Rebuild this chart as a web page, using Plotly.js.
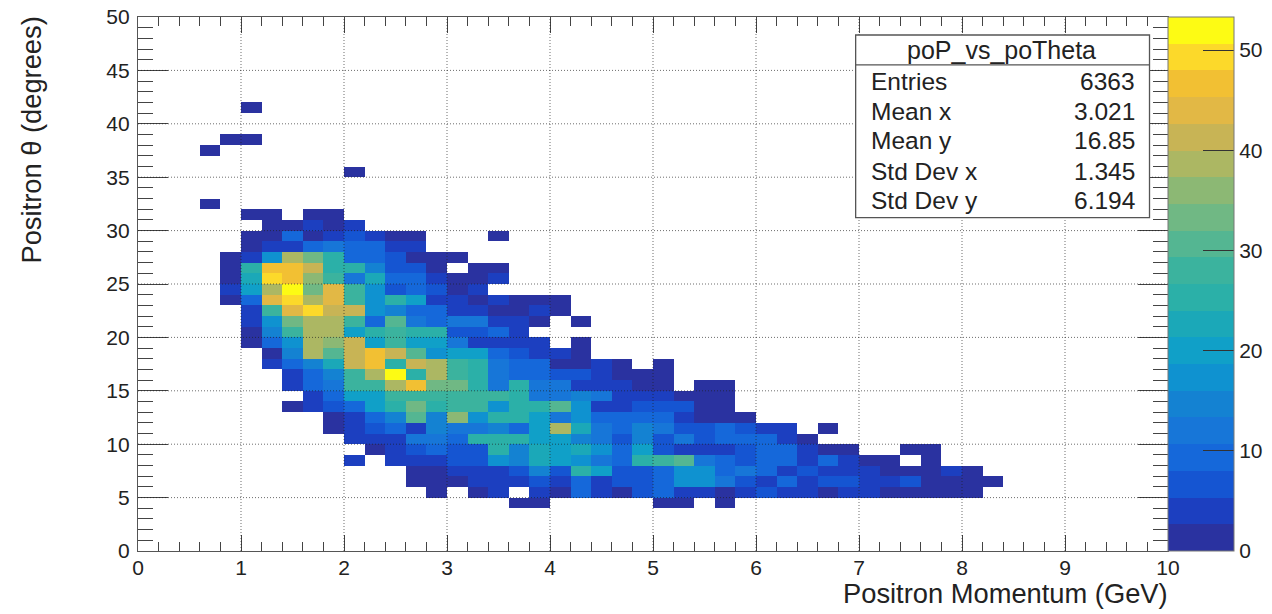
<!DOCTYPE html>
<html>
<head>
<meta charset="utf-8">
<script src="https://cdn.plot.ly/plotly-3.0.1.min.js"></script>
<style>html,body{margin:0;padding:0;background:#fff}</style>
</head>
<body>
<div id="chart" style="width:1272px;height:614px"></div>
<script>
// Histogram bin layout: 50 bins 0-10 GeV, 50 bins 0-50 degrees
const binCountX = 50, binWidthX = 0.2;
const binCountY = 50, binWidthY = 1;

// Each row: theta bin index, first momentum bin index, counts from that bin on (0 = empty)
const row41 = [41, 5, [1]];
const row38 = [38, 4, [1,1]];
const row37 = [37, 3, [1]];
const row35 = [35, 10, [1]];
const row32 = [32, 3, [1]];
const row31 = [31, 5, [2,2,0,2,2]];
const row30 = [30, 6, [2,2,4,2,4]];
const row29 = [29, 5, [2,2,8,2,4,6,5,2,2,0,0,0,1]];
const row28 = [28, 5, [2,5,5,10,11,8,9,5,4]];
const row27 = [27, 4, [2,5,17,38,33,25,9,9,7,2,2,2]];
const row26 = [26, 4, [2,25,46,46,42,25,24,14,7,7,2,0,2,2]];
const row25 = [25, 4, [2,22,50,46,37,28,12,22,9,8,4,2,2,4]];
const row24 = [24, 4, [4,21,38,53,34,44,28,17,7,8,6,2,5]];
const row23 = [23, 4, [2,10,43,49,38,44,27,17,25,19,5,5,2,4,2,2,2]];
const row22 = [22, 5, [5,28,44,50,42,41,16,15,8,10,5,5,2,2,4,2]];
const row21 = [21, 5, [4,16,33,38,38,28,9,31,11,9,11,11,3,3,2,0,2]];
const row20 = [20, 5, [2,15,29,38,38,20,24,27,24,24,7,7,8,3]];
const row19 = [19, 5, [2,9,18,38,36,42,21,27,21,21,13,5,4,4,4,0,2]];
const row18 = [18, 6, [2,15,38,30,42,46,41,31,18,20,19,10,7,5,5,2]];
const row17 = [17, 6, [4,8,14,22,42,46,25,42,38,28,26,11,9,8,2,2,4,2,0,2]];
const row16 = [16, 7, [5,8,15,27,38,53,26,38,28,25,12,9,9,7,7,3,2,2,2]];
const row15 = [15, 7, [5,8,12,28,28,38,46,33,32,25,13,24,13,11,4,5,5,2,2,0,2,2]];
const row14 = [14, 8, [4,9,19,19,27,27,27,28,28,29,24,11,13,14,13,4,5,4,2,2,2]];
const row13 = [13, 7, [2,3,6,8,20,26,33,26,27,27,17,24,24,30,18,4,4,7,7,6,2,2]];
const row12 = [12, 9, [2,3,8,14,31,14,35,16,25,25,21,13,18,8,8,8,9,3,2,2,2]];
const row11 = [11, 9, [2,5,7,8,5,14,13,12,14,10,19,38,23,12,8,15,11,7,7,8,7,3,3,0,2]];
const row10 = [10, 10, [5,5,5,13,12,9,26,26,26,21,19,15,13,6,15,7,13,6,10,9,9,4,2]];
const row09 = [9, 11, [2,5,7,9,6,7,25,15,22,19,22,18,9,21,6,4,5,4,6,9,8,4,2,2,0,0,2,2]];
const row08 = [8, 10, [3,0,4,3,5,6,6,17,15,22,19,17,12,8,24,27,30,12,8,7,10,9,4,9,4,2,2,0,2]];
const row07 = [7, 13, [2,2,3,5,5,7,15,7,25,20,7,7,8,16,16,8,12,8,3,6,5,5,4,2,2,2,4,2]];
const row06 = [6, 13, [2,2,2,3,4,4,7,5,8,5,6,6,8,16,16,11,7,4,9,4,6,6,5,4,7,2,2,2,2]];
const row05 = [5, 14, [2,0,2,4,0,4,2,8,4,2,6,8,4,4,2,4,7,5,4,2,4,5,2,2,2,2,2]];
const row04 = [4, 18, [1,1,0,0,0,0,0,1,1,0,1]];

const rows = [row41,row38,row37,row35,row32,row31,row30,row29,row28,row27,row26,row25,row24,row23,
  row22,row21,row20,row19,row18,row17,row16,row15,row14,row13,row12,row11,row10,row09,row08,row07,row06,row05,row04];

const bandColors = ['#2a32a0','#1c3fc0','#1555d2','#1568da','#1776d8','#1482d2','#0f92d0','#10a0c8','#1ba8b8','#2bb0a8',
  '#3bb39e','#54b692','#70b884','#8cb874','#acb763','#c8b455','#e2b845','#f2c033','#fcd92a','#fdfb14'];
const zMax = 53.3;

const statLabels = ['Entries','Mean x','Mean y','Std Dev x','Std Dev y'];
const statValues = ['6363','3.021','16.85','1.345','6.194'];
const colorbarTicks = [0,10,20,30,40,50];

// Assemble the 2D histogram
const z = [];
for (let j = 0; j < binCountY; j++) z.push(new Array(binCountX).fill(null));
rows.forEach(function (r) {
  r[2].forEach(function (v, k) { if (v > 0) z[r[0]][r[1] + k] = v; });
});

// Stepped colour scale
const colorscale = [];
bandColors.forEach(function (c, i) {
  colorscale.push([i / bandColors.length, c]);
  colorscale.push([(i + 1) / bandColors.length, c]);
});

// Pixel frame of the plot area
const W = 1272, H = 614, L = 138, R = 1168.5, T = 17, B = 551.3;
const px = function (x) { return (x - L) / (R - L); };
const py = function (y) { return (B - y) / (B - T); };

const shapes = [];
const grid = {color: 'rgba(30,30,30,0.65)', width: 1, dash: '1px,2px'};
for (let v = 1; v < 10; v++) shapes.push({type:'line', xref:'x', yref:'paper', x0:v, x1:v, y0:0, y1:1, line:grid, layer:'above'});
for (let v = 5; v < 50; v += 5) shapes.push({type:'line', xref:'paper', yref:'y', x0:0, x1:1, y0:v, y1:v, line:grid, layer:'above'});
const boxLine = {color:'#555', width:1.3};
shapes.push({type:'rect', xref:'paper', yref:'paper', x0:px(856), x1:px(1150), y0:py(217.7), y1:py(35), fillcolor:'#fff', line:boxLine, layer:'above'});
shapes.push({type:'line', xref:'paper', yref:'paper', x0:px(856), x1:px(1150), y0:py(65), y1:py(65), line:boxLine, layer:'above'});

const font = 'Liberation Sans, Arial, sans-serif';
const txt = '#222';
const annotations = [
  {text:'poP_vs_poTheta', xref:'paper', yref:'paper', x:px(1002), y:py(50), xanchor:'center', yanchor:'middle', showarrow:false, font:{family:font,size:25,color:txt}},
  {text:'Positron Momentum (GeV)', xref:'paper', yref:'paper', x:px(1169.5), y:py(594), xanchor:'right', yanchor:'middle', borderpad:0, showarrow:false, font:{family:font,size:27.3,color:txt}},
  {text:'Positron θ (degrees)', xref:'paper', yref:'paper', x:px(31), y:py(16), xanchor:'center', yanchor:'top', textangle:-90, borderpad:0, showarrow:false, font:{family:font,size:27.3,color:txt}}
];
const statY = [82,112,141,172,201];
statLabels.forEach(function (s, i) {
  annotations.push({text:s, xref:'paper', yref:'paper', x:px(869.5), y:py(statY[i]), xanchor:'left', yanchor:'middle', showarrow:false, font:{family:font,size:24.5,color:txt}});
  annotations.push({text:statValues[i], xref:'paper', yref:'paper', x:px(1137), y:py(statY[i]), xanchor:'right', yanchor:'middle', showarrow:false, font:{family:font,size:24.5,color:txt}});
});

const axisCommon = {
  showgrid:false, zeroline:false, showline:true, linecolor:'#555', linewidth:1.2, mirror:'ticks',
  ticks:'inside', tickcolor:'#444', tickwidth:1, tickfont:{family:font,size:21,color:txt}
};

const trace = {
  type:'heatmap', z:z, x0:binWidthX/2, dx:binWidthX, y0:binWidthY/2, dy:binWidthY,
  zmin:0, zmax:zMax, colorscale:colorscale, zsmooth:false, hoverongaps:false,
  colorbar:{
    x:1, xanchor:'left', xpad:0, y:0.5, yanchor:'middle', ypad:0, len:1, lenmode:'fraction',
    thickness:65.5, thicknessmode:'pixels',
    outlinewidth:1, outlinecolor:'#777', borderwidth:0,
    tickmode:'array', tickvals:colorbarTicks, ticktext:colorbarTicks.map(String),
    ticks:'inside', ticklen:31, tickcolor:'#333', tickwidth:1,
    tickfont:{family:font,size:21,color:txt}
  }
};

const layout = {
  width:W, height:H, autosize:false,
  paper_bgcolor:'#fff', plot_bgcolor:'#fff',
  margin:{l:L, r:W-R, t:T, b:H-B, pad:0, autoexpand:false},
  xaxis:Object.assign({}, axisCommon, {range:[0,10], dtick:1, tick0:0, ticklen:16, ticklabelstandoff:-2,
    minor:{dtick:binWidthX, ticks:'inside', ticklen:9, tickcolor:'#444', tickwidth:1, showgrid:false}}),
  yaxis:Object.assign({}, axisCommon, {range:[0,50], dtick:5, tick0:0, ticklen:30, ticklabelstandoff:3,
    minor:{dtick:1, ticks:'inside', ticklen:15, tickcolor:'#444', tickwidth:1, showgrid:false}}),
  shapes:shapes, annotations:annotations, showlegend:false
};

Plotly.newPlot('chart', [trace], layout, {displayModeBar:false, responsive:false});
</script>
</body>
</html>
